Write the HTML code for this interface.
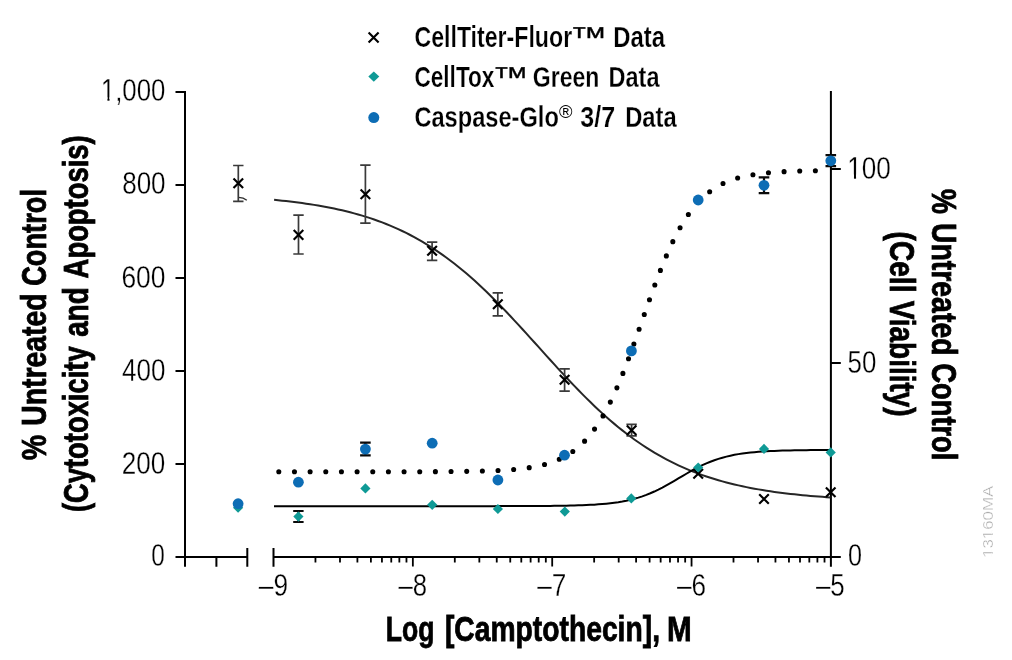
<!DOCTYPE html>
<html><head><meta charset="utf-8"><title>Chart</title>
<style>
html,body{margin:0;padding:0;background:#fff;}
body{width:1012px;height:660px;overflow:hidden;}
svg{display:block;font-family:"Liberation Sans",sans-serif;will-change:transform;}
.ax{stroke:#000;stroke-width:2;fill:none;stroke-linecap:butt;}
.eb{stroke:#3a3a3a;stroke-width:1.7;fill:none;}
.ebk{stroke:#0a0a0a;stroke-width:2.2;fill:none;}
.xm{stroke:#000;stroke-width:2.15;fill:none;}
.tl{font-size:31px;fill:#000;stroke:#fff;stroke-width:0.3px;}
.lg{font-size:30.2px;font-weight:bold;fill:#000;stroke:#fff;stroke-width:0.25px;}
.reg{font-size:17.6px;fill:#000;}
.tt{font-size:35px;font-weight:bold;fill:#000;stroke:#000;stroke-width:0.8px;stroke-linejoin:miter;}
.id{font-size:14.5px;fill:#a6a6a6;stroke:#fff;stroke-width:0.4px;}
.tm{font-size:28.5px;fill:#000;stroke:#000;stroke-width:0.3px;}

</style></head><body>
<svg width="1012" height="660" viewBox="0 0 1012 660">
<rect width="1012" height="660" fill="#fff"/>

<path class="ax" d="M185.0,91.0 V566.8"/>
<path class="ax" d="M830.9,91.0 V566.8"/>
<path class="ax" d="M175.5,557.0 H247.3 M273.5,557.0 H840.8"/>
<path class="ax" d="M247.3,548 V566.8 M273.5,548 V566.8 M216.4,557.0 V566.8"/>
<path class="ax" d="M175.5,464.00 H185.0 M175.5,371.00 H185.0 M175.5,278.00 H185.0 M175.5,185.00 H185.0 M175.5,92.00 H185.0 "/>
<path class="ax" d="M830.9,169.0 H840.8 M830.9,363.0 H840.8 "/>
<path class="ax" style="stroke-width:1.8" d="M315.45,557.0 V562.6 M339.99,557.0 V562.6 M357.40,557.0 V562.6 M370.90,557.0 V562.6 M381.94,557.0 V562.6 M391.26,557.0 V562.6 M399.35,557.0 V562.6 M406.47,557.0 V562.6 M412.85,557.0 V566.4 M454.80,557.0 V562.6 M479.34,557.0 V562.6 M496.75,557.0 V562.6 M510.25,557.0 V562.6 M521.29,557.0 V562.6 M530.61,557.0 V562.6 M538.70,557.0 V562.6 M545.82,557.0 V562.6 M552.20,557.0 V566.4 M594.15,557.0 V562.6 M618.69,557.0 V562.6 M636.10,557.0 V562.6 M649.60,557.0 V562.6 M660.64,557.0 V562.6 M669.96,557.0 V562.6 M678.05,557.0 V562.6 M685.17,557.0 V562.6 M691.55,557.0 V566.4 M733.50,557.0 V562.6 M758.04,557.0 V562.6 M775.45,557.0 V562.6 M788.95,557.0 V562.6 M799.99,557.0 V562.6 M809.31,557.0 V562.6 M817.40,557.0 V562.6 M824.52,557.0 V562.6 "/>
<path d="M274.10,199.87 L278.10,200.26 L282.11,200.67 L286.11,201.10 L290.11,201.55 L294.11,202.03 L298.12,202.54 L302.12,203.08 L306.12,203.64 L310.13,204.24 L314.13,204.87 L318.13,205.54 L322.13,206.24 L326.14,206.97 L330.14,207.75 L334.14,208.57 L338.15,209.44 L342.15,210.35 L346.15,211.30 L350.15,212.31 L354.16,213.37 L358.16,214.48 L362.16,215.65 L366.17,216.88 L370.17,218.17 L374.17,219.53 L378.17,220.95 L382.18,222.43 L386.18,224.00 L390.18,225.63 L394.19,227.34 L398.19,229.13 L402.19,231.00 L406.19,232.95 L410.20,234.99 L414.20,237.11 L418.20,239.33 L422.21,241.63 L426.21,244.03 L430.21,246.52 L434.22,249.11 L438.22,251.80 L442.22,254.58 L446.22,257.46 L450.23,260.45 L454.23,263.52 L458.23,266.70 L462.24,269.97 L466.24,273.35 L470.24,276.81 L474.24,280.37 L478.25,284.02 L482.25,287.75 L486.25,291.57 L490.26,295.47 L494.26,299.45 L498.26,303.50 L502.26,307.61 L506.27,311.79 L510.27,316.03 L514.27,320.31 L518.28,324.64 L522.28,329.01 L526.28,333.40 L530.28,337.82 L534.29,342.26 L538.29,346.70 L542.29,351.15 L546.30,355.59 L550.30,360.01 L554.30,364.42 L558.30,368.80 L562.31,373.14 L566.31,377.44 L570.31,381.70 L574.32,385.90 L578.32,390.04 L582.32,394.12 L586.32,398.13 L590.33,402.06 L594.33,405.91 L598.33,409.68 L602.34,413.37 L606.34,416.96 L610.34,420.46 L614.34,423.87 L618.35,427.19 L622.35,430.40 L626.35,433.52 L630.36,436.54 L634.36,439.46 L638.36,442.29 L642.36,445.01 L646.37,447.64 L650.37,450.17 L654.37,452.61 L658.38,454.95 L662.38,457.20 L666.38,459.36 L670.38,461.44 L674.39,463.42 L678.39,465.33 L682.39,467.15 L686.40,468.89 L690.40,470.55 L694.40,472.14 L698.41,473.66 L702.41,475.11 L706.41,476.49 L710.41,477.80 L714.42,479.06 L718.42,480.25 L722.42,481.39 L726.43,482.47 L730.43,483.50 L734.43,484.47 L738.43,485.40 L742.44,486.28 L746.44,487.12 L750.44,487.92 L754.45,488.67 L758.45,489.38 L762.45,490.06 L766.45,490.71 L770.46,491.32 L774.46,491.90 L778.46,492.44 L782.47,492.96 L786.47,493.45 L790.47,493.92 L794.47,494.36 L798.48,494.78 L802.48,495.17 L806.48,495.55 L810.49,495.90 L814.49,496.24 L818.49,496.55 L822.49,496.85 L826.50,497.14 L830.50,497.41" fill="none" stroke="#262626" stroke-width="2"/>
<path d="M238.6,197.4 Q243.5,197.6 246.8,200.2" fill="none" stroke="#2e2e2e" stroke-width="1.4"/>
<path d="M274.00,506.15 L278.00,506.15 L282.01,506.15 L286.01,506.15 L290.01,506.15 L294.02,506.15 L298.02,506.15 L302.03,506.15 L306.03,506.15 L310.03,506.15 L314.04,506.15 L318.04,506.15 L322.04,506.15 L326.05,506.15 L330.05,506.15 L334.05,506.15 L338.06,506.15 L342.06,506.15 L346.06,506.15 L350.07,506.15 L354.07,506.15 L358.08,506.15 L362.08,506.15 L366.08,506.15 L370.09,506.15 L374.09,506.15 L378.09,506.15 L382.10,506.15 L386.10,506.15 L390.10,506.15 L394.11,506.15 L398.11,506.15 L402.12,506.15 L406.12,506.15 L410.12,506.15 L414.13,506.15 L418.13,506.15 L422.13,506.15 L426.14,506.15 L430.14,506.15 L434.14,506.15 L438.15,506.15 L442.15,506.15 L446.15,506.15 L450.16,506.15 L454.16,506.15 L458.17,506.15 L462.17,506.14 L466.17,506.14 L470.18,506.14 L474.18,506.14 L478.18,506.14 L482.19,506.14 L486.19,506.13 L490.19,506.13 L494.20,506.13 L498.20,506.12 L502.21,506.12 L506.21,506.11 L510.21,506.11 L514.22,506.10 L518.22,506.09 L522.22,506.08 L526.23,506.06 L530.23,506.05 L534.23,506.03 L538.24,506.00 L542.24,505.98 L546.24,505.95 L550.25,505.91 L554.25,505.86 L558.26,505.81 L562.26,505.75 L566.26,505.68 L570.27,505.59 L574.27,505.49 L578.27,505.37 L582.28,505.23 L586.28,505.06 L590.28,504.86 L594.29,504.63 L598.29,504.36 L602.29,504.04 L606.30,503.67 L610.30,503.24 L614.31,502.73 L618.31,502.15 L622.31,501.47 L626.32,500.69 L630.32,499.80 L634.32,498.78 L638.33,497.63 L642.33,496.33 L646.33,494.89 L650.34,493.29 L654.34,491.53 L658.35,489.63 L662.35,487.59 L666.35,485.42 L670.36,483.16 L674.36,480.83 L678.36,478.46 L682.37,476.09 L686.37,473.74 L690.37,471.45 L694.38,469.25 L698.38,467.16 L702.38,465.20 L706.39,463.39 L710.39,461.73 L714.40,460.23 L718.40,458.88 L722.40,457.67 L726.41,456.61 L730.41,455.67 L734.41,454.85 L738.42,454.14 L742.42,453.52 L746.42,452.99 L750.43,452.53 L754.43,452.14 L758.44,451.80 L762.44,451.51 L766.44,451.27 L770.45,451.06 L774.45,450.88 L778.45,450.73 L782.46,450.60 L786.46,450.50 L790.46,450.40 L794.47,450.33 L798.47,450.26 L802.47,450.20 L806.48,450.16 L810.48,450.12 L814.49,450.08 L818.49,450.06 L822.49,450.03 L826.50,450.01 L830.50,449.99" fill="none" stroke="#000" stroke-width="2"/>
<path d="M278.80,471.75 L280.16,471.75 L281.52,471.75 L282.88,471.75 L284.25,471.75 L285.61,471.75 L286.97,471.75 L288.33,471.75 L289.69,471.75 L291.05,471.75 L292.41,471.75 L293.78,471.75 L295.14,471.75 L296.50,471.75 L297.86,471.75 L299.22,471.75 L300.58,471.75 L301.94,471.75 L303.31,471.75 L304.67,471.75 L306.03,471.75 L307.39,471.75 L308.75,471.75 L310.11,471.75 L311.47,471.75 L312.84,471.75 L314.20,471.75 L315.56,471.75 L316.92,471.75 L318.28,471.75 L319.64,471.75 L321.00,471.75 L322.36,471.75 L323.73,471.75 L325.09,471.75 L326.45,471.75 L327.81,471.75 L329.17,471.75 L330.53,471.75 L331.89,471.75 L333.26,471.75 L334.62,471.75 L335.98,471.75 L337.34,471.75 L338.70,471.75 L340.06,471.75 L341.42,471.75 L342.79,471.75 L344.15,471.75 L345.51,471.75 L346.87,471.75 L348.23,471.75 L349.59,471.75 L350.95,471.75 L352.32,471.74 L353.68,471.74 L355.04,471.74 L356.40,471.74 L357.76,471.74 L359.12,471.74 L360.48,471.74 L361.85,471.74 L363.21,471.74 L364.57,471.74 L365.93,471.74 L367.29,471.74 L368.65,471.74 L370.01,471.74 L371.38,471.74 L372.74,471.74 L374.10,471.74 L375.46,471.74 L376.82,471.74 L378.18,471.74 L379.54,471.74 L380.91,471.74 L382.27,471.73 L383.63,471.73 L384.99,471.73 L386.35,471.73 L387.71,471.73 L389.07,471.73 L390.44,471.73 L391.80,471.73 L393.16,471.73 L394.52,471.73 L395.88,471.72 L397.24,471.72 L398.60,471.72 L399.96,471.72 L401.33,471.72 L402.69,471.72 L404.05,471.71 L405.41,471.71 L406.77,471.71 L408.13,471.71 L409.49,471.71 L410.86,471.70 L412.22,471.70 L413.58,471.70 L414.94,471.70 L416.30,471.69 L417.66,471.69 L419.02,471.69 L420.39,471.68 L421.75,471.68 L423.11,471.68 L424.47,471.67 L425.83,471.67 L427.19,471.66 L428.55,471.66 L429.92,471.65 L431.28,471.65 L432.64,471.64 L434.00,471.64 L435.36,471.63 L436.72,471.63 L438.08,471.62 L439.45,471.61 L440.81,471.61 L442.17,471.60 L443.53,471.59 L444.89,471.58 L446.25,471.57 L447.61,471.56 L448.98,471.55 L450.34,471.54 L451.70,471.53 L453.06,471.52 L454.42,471.51 L455.78,471.49 L457.14,471.48 L458.51,471.47 L459.87,471.45 L461.23,471.44 L462.59,471.42 L463.95,471.40 L465.31,471.38 L466.67,471.36 L468.04,471.34 L469.40,471.32 L470.76,471.30 L472.12,471.28 L473.48,471.25 L474.84,471.22 L476.20,471.20 L477.56,471.17 L478.93,471.14 L480.29,471.10 L481.65,471.07 L483.01,471.03 L484.37,470.99 L485.73,470.95 L487.09,470.91 L488.46,470.87 L489.82,470.82 L491.18,470.77 L492.54,470.72 L493.90,470.67 L495.26,470.61 L496.62,470.55 L497.99,470.49 L499.35,470.42 L500.71,470.35 L502.07,470.27 L503.43,470.20 L504.79,470.11 L506.15,470.03 L507.52,469.94 L508.88,469.84 L510.24,469.74 L511.60,469.63 L512.96,469.52 L514.32,469.41 L515.68,469.28 L517.05,469.15 L518.41,469.02 L519.77,468.87 L521.13,468.72 L522.49,468.56 L523.85,468.40 L525.21,468.22 L526.58,468.03 L527.94,467.84 L529.30,467.64 L530.66,467.42 L532.02,467.19 L533.38,466.96 L534.74,466.71 L536.11,466.44 L537.47,466.17 L538.83,465.88 L540.19,465.57 L541.55,465.25 L542.91,464.91 L544.27,464.56 L545.64,464.19 L547.00,463.80 L548.36,463.39 L549.72,462.95 L551.08,462.50 L552.44,462.03 L553.80,461.53 L555.16,461.01 L556.53,460.46 L557.89,459.88 L559.25,459.28 L560.61,458.64 L561.97,457.98 L563.33,457.28 L564.69,456.56 L566.06,455.79 L567.42,454.99 L568.78,454.15 L570.14,453.28 L571.50,452.36 L572.86,451.40 L574.22,450.40 L575.59,449.35 L576.95,448.25 L578.31,447.11 L579.67,445.91 L581.03,444.66 L582.39,443.36 L583.75,442.01 L585.12,440.59 L586.48,439.12 L587.84,437.58 L589.20,435.98 L590.56,434.32 L591.92,432.59 L593.28,430.80 L594.65,428.93 L596.01,427.00 L597.37,424.99 L598.73,422.91 L600.09,420.76 L601.45,418.53 L602.81,416.22 L604.18,413.84 L605.54,411.39 L606.90,408.85 L608.26,406.24 L609.62,403.55 L610.98,400.78 L612.34,397.94 L613.71,395.02 L615.07,392.02 L616.43,388.95 L617.79,385.81 L619.15,382.60 L620.51,379.32 L621.87,375.97 L623.24,372.56 L624.60,369.09 L625.96,365.56 L627.32,361.98 L628.68,358.35 L630.04,354.67 L631.40,350.94 L632.76,347.18 L634.13,343.39 L635.49,339.56 L636.85,335.71 L638.21,331.84 L639.57,327.96 L640.93,324.07 L642.29,320.17 L643.66,316.28 L645.02,312.39 L646.38,308.51 L647.74,304.65 L649.10,300.81 L650.46,297.00 L651.82,293.21 L653.19,289.47 L654.55,285.76 L655.91,282.10 L657.27,278.49 L658.63,274.93 L659.99,271.43 L661.35,267.98 L662.72,264.60 L664.08,261.28 L665.44,258.03 L666.80,254.85 L668.16,251.74 L669.52,248.70 L670.88,245.74 L672.25,242.85 L673.61,240.04 L674.97,237.31 L676.33,234.65 L677.69,232.07 L679.05,229.57 L680.41,227.15 L681.78,224.80 L683.14,222.53 L684.50,220.33 L685.86,218.21 L687.22,216.16 L688.58,214.19 L689.94,212.28 L691.31,210.45 L692.67,208.68 L694.03,206.98 L695.39,205.35 L696.75,203.78 L698.11,202.27 L699.47,200.82 L700.84,199.43 L702.20,198.10 L703.56,196.82 L704.92,195.59 L706.28,194.42 L707.64,193.30 L709.00,192.22 L710.36,191.19 L711.73,190.21 L713.09,189.27 L714.45,188.37 L715.81,187.51 L717.17,186.69 L718.53,185.90 L719.89,185.15 L721.26,184.44 L722.62,183.76 L723.98,183.11 L725.34,182.49 L726.70,181.90 L728.06,181.33 L729.42,180.80 L730.79,180.28 L732.15,179.79 L733.51,179.33 L734.87,178.89 L736.23,178.46 L737.59,178.06 L738.95,177.68 L740.32,177.32 L741.68,176.97 L743.04,176.64 L744.40,176.33 L745.76,176.03 L747.12,175.74 L748.48,175.47 L749.85,175.21 L751.21,174.97 L752.57,174.74 L753.93,174.52 L755.29,174.30 L756.65,174.10 L758.01,173.91 L759.38,173.73 L760.74,173.56 L762.10,173.40 L763.46,173.24 L764.82,173.09 L766.18,172.95 L767.54,172.82 L768.91,172.69 L770.27,172.57 L771.63,172.46 L772.99,172.35 L774.35,172.25 L775.71,172.15 L777.07,172.05 L778.44,171.96 L779.80,171.88 L781.16,171.80 L782.52,171.72 L783.88,171.65 L785.24,171.58 L786.60,171.52 L787.96,171.45 L789.33,171.40 L790.69,171.34 L792.05,171.29 L793.41,171.24 L794.77,171.19 L796.13,171.14 L797.49,171.10 L798.86,171.06 L800.22,171.02 L801.58,170.98 L802.94,170.95 L804.30,170.91 L805.66,170.88 L807.02,170.85 L808.39,170.82 L809.75,170.79 L811.11,170.77 L812.47,170.74 L813.83,170.72 L815.19,170.70 L816.55,170.68 L817.92,170.66 L819.28,170.64 L820.64,170.62 L822.00,170.60" fill="none" stroke="#000" stroke-width="5.1" stroke-linecap="round" stroke-dasharray="0 15.66"/>
<path class="eb" d="M238.3,165.5 V201.3 M233.1,165.5 H243.5 M233.1,201.3 H243.5"/>
<path class="eb" d="M298.5,215.2 V254.0 M293.3,215.2 H303.7 M293.3,254.0 H303.7"/>
<path class="eb" d="M365.4,165.2 V223.2 M360.2,165.2 H370.6 M360.2,223.2 H370.6"/>
<path class="eb" d="M432.1,242.1 V260.4 M426.9,242.1 H437.3 M426.9,260.4 H437.3"/>
<path class="eb" d="M497.8,292.8 V315.8 M492.6,292.8 H503.0 M492.6,315.8 H503.0"/>
<path class="eb" d="M564.6,368.9 V391.2 M559.4,368.9 H569.8 M559.4,391.2 H569.8"/>
<path class="eb" d="M631.6,424.4 V435.9 M626.4,424.4 H636.8 M626.4,435.9 H636.8"/>
<path class="xm" d="M233.5,178.5 L243.1,188.1 M233.5,188.1 L243.1,178.5"/>
<path class="xm" d="M293.7,230.1 L303.3,239.7 M293.7,239.7 L303.3,230.1"/>
<path class="xm" d="M360.6,189.5 L370.2,199.1 M360.6,199.1 L370.2,189.5"/>
<path class="xm" d="M427.3,246.0 L436.9,255.6 M427.3,255.6 L436.9,246.0"/>
<path class="xm" d="M493.0,299.4 L502.6,309.0 M493.0,309.0 L502.6,299.4"/>
<path class="xm" d="M559.8,375.0 L569.4,384.6 M559.8,384.6 L569.4,375.0"/>
<path class="xm" d="M626.8,425.4 L636.4,435.0 M626.8,435.0 L636.4,425.4"/>
<path class="xm" d="M693.4,468.9 L703.0,478.5 M693.4,478.5 L703.0,468.9"/>
<path class="xm" d="M759.2,494.2 L768.8,503.8 M759.2,503.8 L768.8,494.2"/>
<path class="xm" d="M825.9,487.4 L835.5,497.0 M825.9,497.0 L835.5,487.4"/>
<path d="M238.1,502.59999999999997 L243.2,507.7 L238.1,512.8 L233.0,507.7 Z" fill="#0f9a96"/>
<path class="ebk" d="M298.4,511.0 V522.0 M293.2,511.0 H303.6 M293.2,522.0 H303.6"/>
<path d="M298.4,511.5 L303.5,516.6 L298.4,521.7 L293.29999999999995,516.6 Z" fill="#0f9a96"/>
<path d="M365.4,483.29999999999995 L370.5,488.4 L365.4,493.5 L360.29999999999995,488.4 Z" fill="#0f9a96"/>
<path d="M432.2,499.7 L437.3,504.8 L432.2,509.90000000000003 L427.09999999999997,504.8 Z" fill="#0f9a96"/>
<path d="M497.9,503.9 L503.0,509.0 L497.9,514.1 L492.79999999999995,509.0 Z" fill="#0f9a96"/>
<path d="M564.8,506.5 L569.9,511.6 L564.8,516.7 L559.6999999999999,511.6 Z" fill="#0f9a96"/>
<path d="M631.3,493.29999999999995 L636.4,498.4 L631.3,503.5 L626.1999999999999,498.4 Z" fill="#0f9a96"/>
<path d="M698.2,462.4 L703.3000000000001,467.5 L698.2,472.6 L693.1,467.5 Z" fill="#0f9a96"/>
<path d="M764.0,443.79999999999995 L769.1,448.9 L764.0,454.0 L758.9,448.9 Z" fill="#0f9a96"/>
<path d="M830.7,447.29999999999995 L835.8000000000001,452.4 L830.7,457.5 L825.6,452.4 Z" fill="#0f9a96"/>
<circle cx="238.1" cy="503.7" r="5.4" fill="#0d6db5"/>
<circle cx="298.4" cy="482.2" r="5.4" fill="#0d6db5"/>
<path class="ebk" d="M365.4,442.7 V455.3 M360.1,442.7 H370.7 M360.1,455.3 H370.7"/>
<circle cx="365.4" cy="449.1" r="5.4" fill="#0d6db5"/>
<circle cx="432.2" cy="443.2" r="5.4" fill="#0d6db5"/>
<circle cx="497.9" cy="480.0" r="5.4" fill="#0d6db5"/>
<circle cx="564.5" cy="455.2" r="5.4" fill="#0d6db5"/>
<circle cx="631.4" cy="350.9" r="5.4" fill="#0d6db5"/>
<circle cx="698.2" cy="200.0" r="5.4" fill="#0d6db5"/>
<path class="ebk" d="M764.0,177.4 V193.2 M758.7,177.4 H769.3 M758.7,193.2 H769.3"/>
<circle cx="764.0" cy="185.3" r="5.4" fill="#0d6db5"/>
<path class="ebk" d="M830.8,155.1 V166.2 M825.5,155.1 H836.1 M825.5,166.2 H836.1"/>
<circle cx="830.8" cy="160.8" r="5.4" fill="#0d6db5"/>
<path class="xm" d="M368.6,32.5 L378.6,42.5 M368.6,42.5 L378.6,32.5"/>
<path d="M373.8,71.5 L379.3,76.6 L373.8,81.69999999999999 L368.3,76.6 Z" fill="#0f9a96"/>
<circle cx="373.8" cy="117.6" r="5.5" fill="#0d6db5"/>
<g transform="translate(100.82,101.30) scale(0.8339,1)"><text class="tl">1,000</text><rect x="1.55" y="-4.03" width="6.37" height="4.96" fill="#fff"/><rect x="10.41" y="-4.03" width="5.90" height="4.96" fill="#fff"/></g>
<g transform="translate(122.14,194.40) scale(0.8408,1)"><text class="tl">800</text></g>
<g transform="translate(121.41,287.50) scale(0.8513,1)"><text class="tl">600</text></g>
<g transform="translate(122.07,380.60) scale(0.8382,1)"><text class="tl">400</text></g>
<g transform="translate(121.83,473.70) scale(0.8410,1)"><text class="tl">200</text></g>
<g transform="translate(151.22,566.00) scale(0.7864,1)"><text class="tl">0</text></g>
<g transform="translate(847.30,178.50) scale(0.8417,1)"><text class="tl">100</text><rect x="1.55" y="-4.03" width="6.37" height="4.96" fill="#fff"/><rect x="10.41" y="-4.03" width="5.90" height="4.96" fill="#fff"/></g>
<g transform="translate(847.55,372.50) scale(0.8346,1)"><text class="tl">50</text></g>
<g transform="translate(847.98,566.10) scale(0.8136,1)"><text class="tl">0</text></g>
<g transform="translate(258.80,595.50) scale(0.8485,1)"><text class="tl">–9</text></g>
<g transform="translate(398.50,595.50) scale(0.8303,1)"><text class="tl">–8</text></g>
<g transform="translate(537.30,595.50) scale(0.8458,1)"><text class="tl">–7</text></g>
<g transform="translate(676.90,595.50) scale(0.8455,1)"><text class="tl">–6</text></g>
<g transform="translate(815.90,595.50) scale(0.8364,1)"><text class="tl">–5</text></g>
<g transform="translate(993.30,557.85) rotate(-90) scale(1.1618,1)"><text class="id">13160MA</text><rect x="0.73" y="-1.89" width="3.04" height="2.32" fill="#fff"/><rect x="4.81" y="-1.89" width="2.76" height="2.32" fill="#fff"/><rect x="16.85" y="-1.89" width="3.04" height="2.32" fill="#fff"/><rect x="20.94" y="-1.89" width="2.76" height="2.32" fill="#fff"/></g>
<g transform="translate(414.44,47.00) scale(0.7667,1)"><text class="lg">CellTiter-Fluor</text></g>
<g transform="translate(569.85,46.60) scale(1.3000,1)"><text class="tm">™</text></g>
<g transform="translate(613.22,47.00) scale(0.7906,1)"><text class="lg">Data</text></g>
<g transform="translate(414.46,87.00) scale(0.7486,1)"><text class="lg">CellTox</text></g>
<g transform="translate(492.35,86.60) scale(1.2609,1)"><text class="tm">™</text></g>
<g transform="translate(532.85,87.00) scale(0.7619,1)"><text class="lg">Green</text></g>
<g transform="translate(608.54,87.00) scale(0.7780,1)"><text class="lg">Data</text></g>
<g transform="translate(414.42,127.00) scale(0.7824,1)"><text class="lg">Caspase-Glo</text></g>
<g transform="translate(559.04,117.60) scale(1.0400,1)"><text class="reg">®</text></g>
<g transform="translate(580.28,127.00) scale(0.8302,1)"><text class="lg">3/7</text></g>
<g transform="translate(625.13,127.00) scale(0.7874,1)"><text class="lg">Data</text></g>
<g transform="translate(46.00,460.21) rotate(-90) scale(0.8132,1)"><text class="tt">%</text></g>
<g transform="translate(46.00,425.72) rotate(-90) scale(0.8106,1)"><text class="tt">Untreated</text></g>
<g transform="translate(46.00,285.78) rotate(-90) scale(0.7778,1)"><text class="tt">Control</text></g>
<g transform="translate(87.50,512.08) rotate(-90) scale(0.7820,1)"><text class="tt">(Cytotoxicity</text></g>
<g transform="translate(87.50,336.80) rotate(-90) scale(0.7967,1)"><text class="tt">and</text></g>
<g transform="translate(87.50,278.40) rotate(-90) scale(0.7834,1)"><text class="tt">Apoptosis)</text></g>
<g transform="translate(931.60,188.80) rotate(90) scale(0.8099,1)"><text class="tt">%</text></g>
<g transform="translate(931.60,222.88) rotate(90) scale(0.8125,1)"><text class="tt">Untreated</text></g>
<g transform="translate(931.60,363.42) rotate(90) scale(0.7786,1)"><text class="tt">Control</text></g>
<g transform="translate(890.40,231.60) rotate(90) scale(0.8028,1)"><text class="tt">(Cell</text></g>
<g transform="translate(890.40,300.70) rotate(90) scale(0.7979,1)"><text class="tt">Viability)</text></g>
<g transform="translate(385.77,640.70) scale(0.7587,1)"><text class="tt">Log</text></g>
<g transform="translate(444.89,640.70) scale(0.8080,1)"><text class="tt">[Camptothecin],</text></g>
<g transform="translate(666.92,640.70) scale(0.8471,1)"><text class="tt">M</text></g>
</svg></body></html>
